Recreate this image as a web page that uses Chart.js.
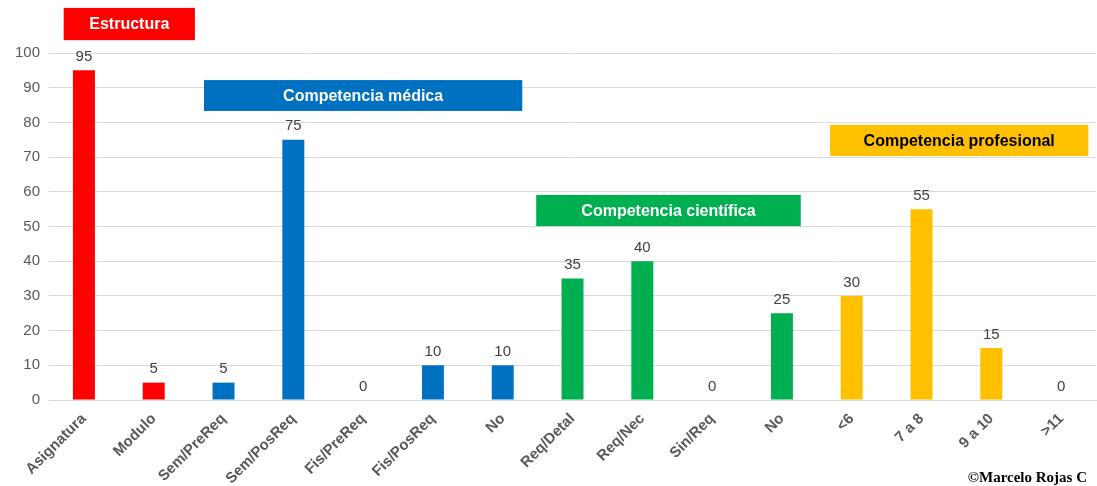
<!DOCTYPE html>
<html>
<head>
<meta charset="utf-8">
<script src="https://cdn.jsdelivr.net/npm/chart.js@4/dist/chart.umd.min.js"></script>
<style>
    html, body { margin: 0; padding: 0; background: #ffffff; }
    #wrap { width: 1097px; height: 486px; }
</style>
</head>
<body>
<div id="wrap"><canvas id="chart"></canvas></div>
<script>
const categories = ["Asignatura", "Modulo", "Sem/PreReq", "Sem/PosReq", "Fis/PreReq", "Fis/PosReq", "No",
    "Req/Detal", "Req/Nec", "Sin/Req", "No", "<6", "7 a 8", "9 a 10", ">11"];
const values = [95, 5, 5, 75, 0, 10, 10, 35, 40, 0, 25, 30, 55, 15, 0];
const groupOfBar = [0, 0, 1, 1, 1, 1, 1, 2, 2, 2, 2, 3, 3, 3, 3];

const groupNames = ["Estructura", "Competencia médica", "Competencia científica", "Competencia profesional"];
const groupColors = ["#ff0000", "#0070c0", "#00b050", "#ffc000"];
const groupTextColors = ["#ffffff", "#ffffff", "#ffffff", "#000000"];
// box extents in axis units: [xFrom, xTo, yTop, yBottom]
const groupBoxes = [
    [-0.29, 1.59, 113.0, 103.7],
    [1.72, 6.28, 92.2, 83.3],
    [6.48, 10.27, 59.1, 50.1],
    [10.69, 14.39, 79.3, 70.3]
];

const barColors = groupOfBar.map(g => groupColors[g]);

const overlayPlugin = {
    id: "overlay",
    afterDatasetsDraw(chart) {
        const ctx = chart.ctx;
        const xs = chart.scales.x;
        const ys = chart.scales.y;

        // value labels
        const meta = chart.getDatasetMeta(0);
        ctx.save();
        ctx.font = "15px 'Liberation Sans', Arial, sans-serif";
        ctx.fillStyle = "#404040";
        ctx.textAlign = "center";
        ctx.textBaseline = "bottom";
        meta.data.forEach((bar, i) => {
            ctx.fillText(String(values[i]), bar.x, bar.y - 6);
        });

        // group boxes
        groupBoxes.forEach((b, g) => {
            const x1 = xs.getPixelForValue(b[0]);
            const x2 = xs.getPixelForValue(b[1]);
            const y1 = ys.getPixelForValue(b[2]);
            const y2 = ys.getPixelForValue(b[3]);
            ctx.fillStyle = groupColors[g];
            ctx.fillRect(x1, y1, x2 - x1, y2 - y1);
            ctx.fillStyle = groupTextColors[g];
            ctx.font = "bold 16px 'Liberation Sans', Arial, sans-serif";
            ctx.textBaseline = "middle";
            ctx.fillText(groupNames[g], (x1 + x2) / 2, (y1 + y2) / 2 + 1);
        });

        // credit
        ctx.font = "bold 15px 'Liberation Serif', 'DejaVu Serif', serif";
        ctx.fillStyle = "#000000";
        ctx.textAlign = "right";
        ctx.textBaseline = "middle";
        ctx.fillText("©Marcelo Rojas C", 1087, 478);
        ctx.restore();
    }
};

new Chart(document.getElementById("chart"), {
    type: "bar",
    data: {
        labels: categories,
        datasets: [{
            data: values,
            backgroundColor: barColors,
            barPercentage: 0.63,
            categoryPercentage: 0.5
        }]
    },
    options: {
        responsive: true,
        maintainAspectRatio: false,
        animation: false,
        layout: { padding: { top: 53, right: 1, left: 6, bottom: 0 } },
        plugins: {
            legend: { display: false },
            tooltip: { enabled: false }
        },
        scales: {
            x: {
                afterFit(scale) { scale.height = 86; },
                grid: { display: false, drawTicks: false },
                border: { color: "#d9d9d9", width: 1 },
                ticks: {
                    color: "#595959",
                    font: { family: "'Liberation Sans', Arial, sans-serif", size: 15, weight: "bold" },
                    maxRotation: 45,
                    minRotation: 45,
                    padding: 10,
                    autoSkip: false
                }
            },
            y: {
                min: 0,
                max: 100,
                grid: { color: "#d9d9d9", drawTicks: false },
                border: { display: false },
                ticks: {
                    stepSize: 10,
                    color: "#595959",
                    font: { family: "'Liberation Sans', Arial, sans-serif", size: 15 },
                    padding: 9
                }
            }
        }
    },
    plugins: [overlayPlugin]
});
</script>
</body>
</html>
